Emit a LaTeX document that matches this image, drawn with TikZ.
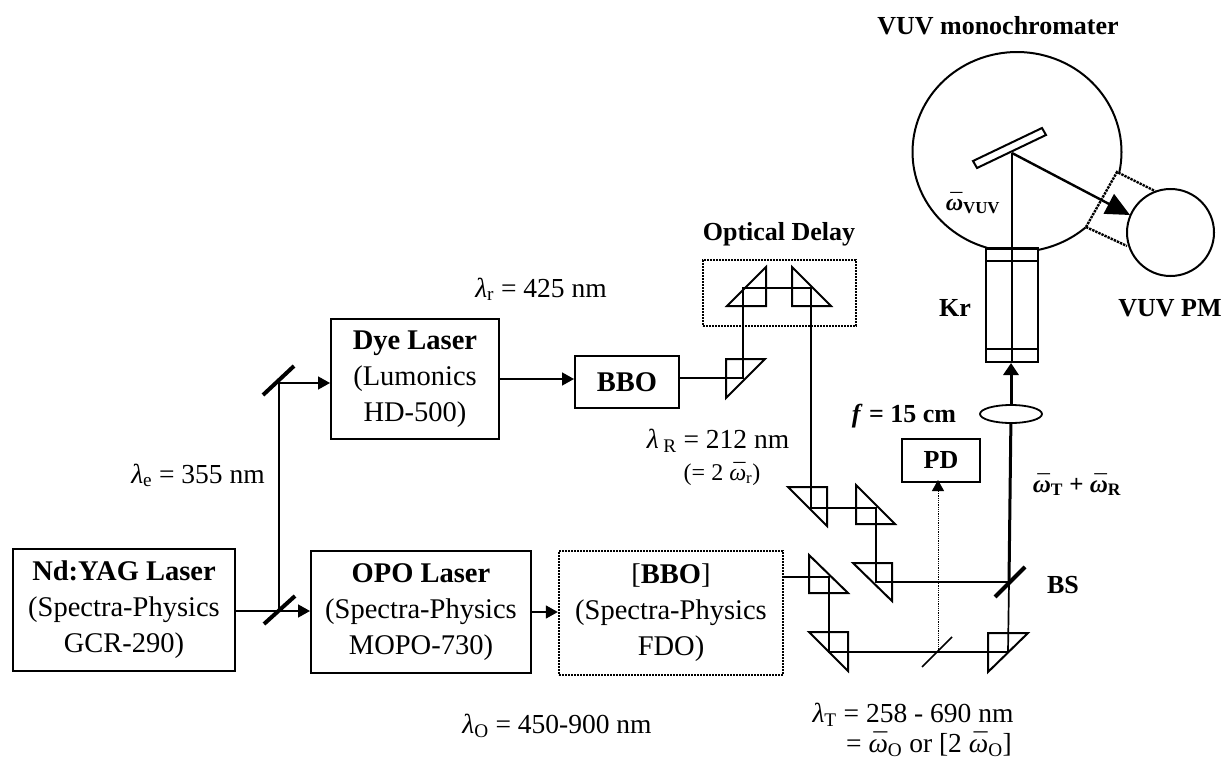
\documentclass[tikz,border=0pt]{standalone}
\usepackage{fontspec}
\setmainfont{Liberation Serif}
\usetikzlibrary{arrows.meta,shapes.geometric}
\newcommand{\lam}[1]{\textit{λ}\textsubscript{#1}}
\newcommand{\wb}[1]{\textit{\accent"AF ω}\textsubscript{#1}}
\begin{document}
\begin{tikzpicture}[x=1pt,y=-1pt,>={Triangle[length=12pt,width=13pt]},line join=miter]
  \tikzset{box/.style={draw, line width=2pt, inner sep=0pt, align=center, font=\fontsize{28.5}{36}\selectfont},
    threeline/.style={execute at begin node=\rule{0pt}{25pt}},
    dotbox/.style={box, densely dotted, line width=2.4pt},
    lab/.style={anchor=base, inner sep=0pt, font=\fontsize{27.5}{33}\selectfont},
    blab/.style={lab, font=\fontsize{26}{31}\selectfont\bfseries},
    beam/.style={line width=1.7pt},
    thickbeam/.style={line width=3pt},
    prism/.style={draw, line width=2pt},
    mirror/.style={line width=4pt}}
  \useasboundingbox (0,0) rectangle (1224,760);
  % boxes
  \node[box, threeline, minimum width=222pt, minimum height=122pt] (yag) at (124,610) {\textbf{Nd:YAG Laser}\\(Spectra-Physics\\GCR-290)};
  \node[box, threeline, minimum width=220pt, minimum height=122pt] (opo) at (421,612) {\textbf{OPO Laser}\\(Spectra-Physics\\MOPO-730)};
  \node[dotbox, threeline, minimum width=224pt, minimum height=124pt] (fdo) at (671,613) {[\textbf{BBO}]\\(Spectra-Physics\\FDO)};
  \node[box, threeline, minimum width=168pt, minimum height=120pt] (dye) at (415,379) {\textbf{Dye Laser}\\(Lumonics\\HD-500)};
  \node[box, minimum width=104pt, minimum height=52pt] (bbo) at (627,382) {\textbf{BBO}};
  \node[box, minimum width=78pt, minimum height=43pt, font=\fontsize{26}{31}\selectfont\bfseries] (pd) at (941,460.5) {PD};
  \node[dotbox, minimum width=153pt, minimum height=66pt] (delay) at (779.5,293) {};
  \node[box, minimum width=52pt, minimum height=113pt] (tube) at (1012,305.5) {};
  \node[draw, ellipse, line width=1.8pt, inner sep=0pt, minimum width=62pt, minimum height=18pt] (lens) at (1011,414) {};
  \node[draw, circle, line width=2pt, inner sep=0pt, minimum size=87pt] (pm) at (1170.5,232.5) {};
  % beam corners
  \coordinate (m1) at (279,383);
  \coordinate (m2) at (279,611);
  \coordinate (p1) at (743,378);
  \coordinate (p2) at (743,288);
  \coordinate (p3) at (811,288);
  \coordinate (p4) at (811,508);
  \coordinate (p5) at (876,508);
  \coordinate (p6) at (876,582);
  \coordinate (bs) at (1009,582);
  \coordinate (p7) at (829,577);
  \coordinate (p8) at (829,652);
  \coordinate (split) at (938,652);
  \coordinate (p9) at (1008,652);
  \coordinate (grating) at (1012,153);
  \coordinate (pmin) at (1130,215);
  % prisms
  \draw[prism] (726,359) -- (765,359) -- (726,398) -- cycle;
  \draw[prism] (727,306) -- (766,306) -- (766,267) -- cycle;
  \draw[prism] (792,267) -- (792,306) -- (831,306) -- cycle;
  \draw[prism] (788,487) -- (827,487) -- (827,526) -- cycle;
  \draw[prism] (856,485) -- (856,524) -- (895,524) -- cycle;
  \draw[prism] (853,563) -- (892,563) -- (892,601) -- cycle;
  \draw[prism] (809,555) -- (809,593) -- (848,593) -- cycle;
  \draw[prism] (809,632) -- (848,632) -- (848,671) -- cycle;
  \draw[prism] (988,672) -- (988,633) -- (1028,633) -- cycle;
  % mirrors
  \draw[mirror] (263,395) -- (294,366);
  \draw[mirror] (264,624) -- (295,596);
  \draw[mirror] (995,597) -- (1025,567);
  \draw[line width=1.7pt] (922,667) -- (952,637);
  % beams
  \draw[beam, ->] (yag.east |- m2) -- (opo.west |- m2);
  \draw[beam] (m2) -- (m1);
  \draw[beam, ->] (m1) -- (dye.west |- m1);
  \draw[beam, ->] (dye.east) -- (dye.east -| bbo.west);
  \draw[beam, ->] (opo.east) -- (opo.east -| fdo.west);
  \draw[beam] (bbo.east |- p1) -- (p1) -- (p2) -- (p3) -- (p4) -- (p5) -- (p6) -- (bs);
  \draw[beam] (fdo.east |- p7) -- (p7) -- (p8) -- (p9) -- (bs);
  \draw[line width=.8pt, densely dotted, -{Triangle[length=11pt,width=12pt]}] (split) -- (split |- pd.south) -- ++(0,-3);
  \draw[thickbeam] (bs) -- (lens);
  \draw[thickbeam, -{Triangle[length=12pt,width=15pt]}] (lens) -- (lens |- tube.south);
  \draw[beam] (tube.south -| grating) -- (grating);
  % monochromator
  \draw[line width=2pt] plot[domain=106.7:372,samples=90] ({1017+104.5*cos(\x)},{152+100*sin(\x)});
  \draw[line width=2pt] plot[domain=49:78.5,samples=15] ({1017+104.5*cos(\x)},{152+100*sin(\x)});
  \draw[line width=2pt] (973,161) -- (1042,128) -- (1046,135) -- (977,168) -- cycle;
  \draw[line width=2pt] (tube.north west) -- (tube.north east);
  \draw[line width=2pt] (986,261) -- (1038,261);
  \draw[line width=2pt] (986,349) -- (1038,349);
  \draw[line width=2.4pt, densely dotted] (1086,227) -- (1117,172) -- (1155,191);
  \draw[line width=2.4pt, densely dotted] (1086,227) -- (1127,246);
  \draw[line width=2.4pt, -{Triangle[length=24pt,width=22pt]}] (grating) -- (pmin);
  % labels
  \node[blab] (mono) at (998,35) {VUV monochromater};
  \node[blab] (delaylab) at (779,240) {Optical Delay};
  \node[blab] (kr) at (955,316) {Kr};
  \node[blab] (pmlab) at (1170,316) {VUV PM};
  \node[blab] (bslab) at (1063,593) {BS};
  \node[blab] (flab) at (904,422) {\textit{f} = 15 cm};
  \node[lab] (we) at (198,483) {\lam{e} = 355 nm};
  \node[lab] (wr) at (541,297) {\lam{r} = 425 nm};
  \node[lab] (wR) at (718,448) {\textit{λ}\,\textsubscript{R} = 212 nm};
  \node[lab, font=\fontsize{24}{29}\selectfont] (wR2) at (722,480) {(= 2 \wb{r})};
  \node[lab] (wO) at (557,733) {\lam{O} = 450-900 nm};
  \node[lab] (wT) at (913,722) {\lam{T} = 258 - 690 nm};
  \node[lab] (wT2) at (929,752) {= \wb{O} or [2 \wb{O}]};
  \node[blab, font=\fontsize{25}{30}\selectfont\bfseries] (wsum) at (1077,492) {\wb{T} + \wb{R}};
  \node[blab, font=\fontsize{24}{29}\selectfont\bfseries] (wvuv) at (973,210) {\wb{VUV}};
\end{tikzpicture}
\end{document}
